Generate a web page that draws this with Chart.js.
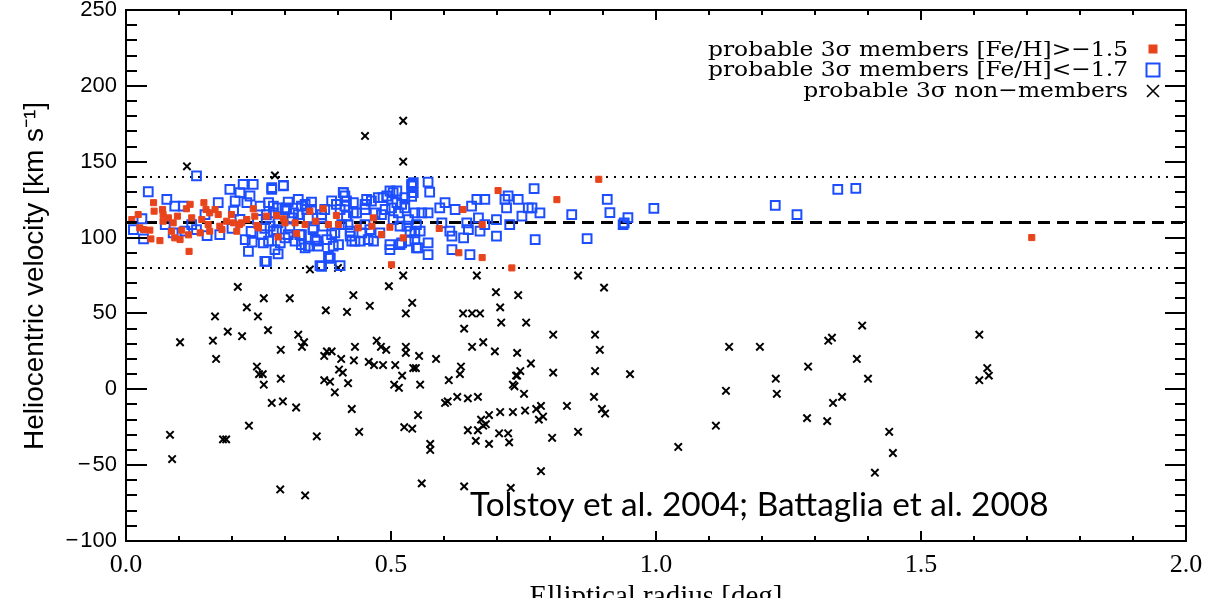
<!DOCTYPE html>
<html><head><meta charset="utf-8">
<script src="https://cdn.jsdelivr.net/npm/chart.js@4.4.0/dist/chart.umd.min.js"></script>
<style>html,body{margin:0;padding:0;background:#fff;}canvas{display:block;}</style>
</head><body>
<canvas id="c" width="1212" height="598"></canvas>
<script>
// ---- labels ----
const seriesLabels = [
  'probable 3\u03C3 members [Fe/H]>\u22121.5',
  'probable 3\u03C3 members [Fe/H]<\u22121.7',
  'probable 3\u03C3 non\u2212members'
];
const xTitle = 'Elliptical radius [deg]';
const yTitle = 'Heliocentric velocity [km s\u207B\u00B9]';
const creditText = 'Tolstoy et al. 2004; Battaglia et al. 2008';
const xTickValues = [0, 0.5, 1.0, 1.5, 2.0];
const yTickValues = [-100, -50, 0, 50, 100, 150, 200, 250];
const refLevels = [140, 110, 80];   // upper 3-sigma, systemic, lower 3-sigma

// ---- metal-rich members ([Fe/H] > -1.5) ----
const redRadius = [0.011,0.023,0.026,0.033,0.045,0.047,0.052,0.053,0.064,0.069,0.070,0.070,0.080,0.086,0.089,0.092,0.097,0.102,0.105,0.114,0.118,0.119,0.121,0.124,0.140,0.143,0.147,0.151,0.155,0.158,0.158,0.168,0.174,0.177,0.181,0.190,0.199,0.203,0.209,0.214,0.218,0.228,0.240,0.243,0.247,0.250,0.265,0.284,0.287,0.297,0.300,0.319,0.322,0.338,0.347,0.358,0.372,0.382,0.397,0.401,0.438,0.464,0.467,0.482,0.498,0.501,0.523,0.591,0.628,0.636,0.672,0.672,0.702,0.728,0.813,0.892,1.709];
const redVelocity = [111.9,115.2,106.4,105.3,104.9,99.1,123.0,117.4,98.0,118.5,115.2,110.8,113.0,104.2,109.7,99.8,114.1,98.7,104.9,119.0,101.8,90.9,121.9,113.0,103.1,111.9,123.0,118.5,108.6,116.3,104.2,118.5,115.2,107.5,105.3,110.8,115.2,109.7,104.2,108.6,109.7,111.9,119.0,114.1,107.9,106.4,114.1,114.6,100.4,112.4,109.7,109.7,102.6,108.6,117.4,110.8,119.0,108.6,114.6,108.6,106.4,107.5,113.0,102.0,106.8,82.1,99.8,106.0,90.0,118.5,108.6,86.8,131.0,80.0,125.0,138.4,100.0];

// ---- metal-poor members ([Fe/H] < -1.7) ----
const blueRadius = [0.014,0.030,0.033,0.042,0.077,0.074,0.089,0.092,0.108,0.111,0.133,0.124,0.133,0.149,0.153,0.174,0.177,0.196,0.203,0.206,0.215,0.221,0.228,0.234,0.240,0.225,0.231,0.253,0.256,0.259,0.262,0.265,0.275,0.278,0.284,0.291,0.297,0.303,0.306,0.313,0.325,0.328,0.331,0.338,0.344,0.350,0.353,0.360,0.366,0.369,0.385,0.388,0.391,0.397,0.404,0.410,0.413,0.416,0.423,0.429,0.432,0.442,0.451,0.454,0.460,0.467,0.476,0.482,0.492,0.498,0.501,0.504,0.511,0.517,0.520,0.526,0.530,0.533,0.539,0.542,0.545,0.548,
0.275,0.297,0.269,0.278,0.287,0.300,0.272,0.278,0.269,0.281,0.287,0.306,0.316,0.319,0.309,0.325,0.331,0.331,0.338,0.341,0.350,0.353,0.357,0.363,0.372,0.375,0.379,0.382,0.388,0.394,0.401,0.410,0.413,0.416,0.419,0.423,0.426,0.429,0.435,0.445,0.451,0.457,0.463,0.470,0.485,0.489,0.498,0.504,0.511,0.514,0.517,0.520,0.526,0.533,0.536,0.539,0.542,0.498,0.479,0.451,0.407,0.369,0.385,0.265,0.404,0.369,0.344,0.287,0.300,
0.570,0.573,0.539,0.545,0.558,0.570,0.548,0.555,0.545,0.551,0.570,0.570,0.592,0.602,0.596,0.611,0.615,0.615,0.621,0.637,0.643,0.646,0.649,0.652,0.662,0.665,0.668,0.677,0.677,0.699,0.699,0.715,0.718,0.721,0.724,0.740,0.747,0.759,0.766,0.770,0.772,0.781,
0.841,0.870,0.908,0.913,0.947,0.938,0.940,0.996,1.225,1.266,1.343,1.377,
0.200,0.215,0.236,0.248,0.262,0.238];
const blueVelocity = [105.3,112.4,99.1,130.2,125.2,108.6,103.1,120.8,120.8,104.2,140.6,108.6,105.3,115.2,101.3,123.0,102.0,131.8,117.4,124.1,129.6,135.1,123.0,127.4,135.1,98.7,90.9,120.8,102.0,96.5,84.3,115.2,131.8,120.8,105.3,96.5,134.0,119.6,102.0,113.0,115.2,102.0,95.4,121.9,94.3,118.5,105.3,97.6,81.5,115.2,86.5,102.0,94.3,121.9,118.5,129.6,127.4,124.1,104.2,116.3,97.6,97.6,121.9,125.2,105.3,97.6,126.3,115.2,127.4,92.1,119.6,111.9,130.7,95.4,121.9,126.3,107.5,97.6,134.0,136.2,103.1,93.2,
132.9,134.4,123.0,116.3,119.6,118.5,107.5,104.2,97.6,92.1,89.2,123.4,116.3,97.6,106.4,125.2,120.7,102.0,93.2,118.5,123.4,106.4,98.7,94.3,107.5,118.5,98.7,87.6,124.1,103.1,95.4,129.6,120.7,114.1,108.6,100.9,97.6,123.0,116.3,103.1,118.5,98.7,124.1,116.3,126.3,118.5,130.7,129.6,123.0,116.3,107.5,96.5,119.6,111.9,104.2,135.1,129.6,95.4,103.1,108.6,108.6,81.0,86.5,84.3,81.5,113.0,113.0,109.7,99.8,
136.6,130.0,127.2,116.3,116.3,116.3,108.6,104.2,98.7,93.2,96.5,88.8,119.6,123.0,109.7,104.2,100.9,92.1,118.5,99.8,109.7,105.3,88.8,120.7,125.2,113.0,104.2,125.2,108.6,111.9,100.9,125.2,119.6,127.4,108.6,125.2,114.1,119.6,119.6,132.2,98.7,116.3,
115.2,99.3,125.2,116.5,113.2,108.6,109.7,119.2,121.2,115.2,131.8,132.5,
106.0,112.0,104.0,112.0,106.0,97.0];

// ---- non-members ----
const crossRadius = [0.115,0.281,0.451,0.523,0.523,0.347,0.400,0.523,0.662,0.853,0.211,0.496,0.260,0.309,0.429,0.698,0.740,0.228,0.377,0.460,0.540,0.706,0.902,0.168,0.249,0.417,0.528,0.636,0.653,0.668,0.708,0.638,0.755,0.192,0.219,0.268,0.325,0.336,0.332,0.102,0.164,0.170,0.292,0.374,0.379,0.388,0.406,0.432,0.430,0.473,0.481,0.491,0.458,0.468,0.485,0.508,0.528,0.528,0.553,0.542,0.547,0.585,0.632,0.630,0.653,0.674,0.696,0.738,0.806,0.885,0.894,0.764,0.744,0.736,0.806,0.885,0.951,0.247,0.251,0.258,0.260,0.292,0.374,0.385,0.402,0.409,0.419,0.394,0.521,0.506,0.515,0.555,0.609,0.730,0.733,0.738,0.751,0.883,0.275,0.296,0.321,0.426,0.602,0.607,0.625,0.645,0.664,0.670,0.674,0.679,0.685,0.706,0.730,0.753,0.774,0.783,0.779,0.787,0.832,0.898,0.904,0.551,0.232,0.083,0.087,0.183,0.189,0.360,0.440,0.525,0.540,0.574,0.574,0.645,0.664,0.660,0.685,0.704,0.721,0.723,0.804,0.853,0.783,0.558,0.638,0.726,0.291,0.338,1.042,1.113,1.138,1.132,1.196,1.226,1.228,1.287,1.285,1.323,1.325,1.332,1.389,1.379,1.400,1.334,1.351,1.440,1.447,1.413,1.610,1.610,1.625,1.628];
const crossVelocity = [147,141,167,177,150,79,80,75,75,75,67.5,68,60,60,62,64,62,54,52,55,57,54,67,48,48,51,50,50,50,50,44,40,44,38,35,39,36,31,28,31,32,20,26,22,25,25,20,28,19,32,28,26,18,16,16,16,28,24,22,14,14,20,15,10,28,31,25,24,36,36,26,17,12,9,11,12,10,15,10,10,3,7,6,5,13,11,4,-2,9,3,1,3,6,3,2,9,-3,-5,-9,-8,-12,-13,-9,-8,-5,-6,-5,-20,-24,-23,-17,-15,-15,-14,-13,-11,-20,-18,-11,-13,-16,-17,-24,-30,-46,-33,-33,-31,-28,-25,-26,-36,-40,-27,-27,-34,-36,-29,-29,-35,-32,-28,-54,-62,-64,-65,-66,-70,-38,-24,28,-1,28,7,-3,15,-19,-21,32,34,42,20,7,-9,-5,-28,-42,-55,36,6,14,9];

// ---- styles ----
const RED = 'rgb(232,68,28)';
const BLUE = 'rgb(28,78,255)';
const zip = (xs, ys) => xs.map((x, i) => ({ x, y: ys[i] }));
const hline = v => [{ x: 0, y: v }, { x: 2, y: v }];

const framePlugin = {
  id: 'frame',
  afterDraw(chart) {
    const { ctx, chartArea: a, scales: { x, y } } = chart;
    ctx.save();
    ctx.strokeStyle = '#000';
    ctx.lineWidth = 2;
    ctx.beginPath();
    for (let v = y.min; v <= y.max + 1e-6; v += 10) {
      const p = Math.round(y.getPixelForValue(v));
      const len = (Math.round(v) % 50 === 0) ? 21 : 11;
      ctx.moveTo(a.left, p); ctx.lineTo(a.left + len, p);
      ctx.moveTo(a.right, p); ctx.lineTo(a.right - len, p);
    }
    for (let i = 0; i <= 20; i++) {
      const v = x.min + i * 0.1;
      const p = Math.round(x.getPixelForValue(v));
      const len = (i % 5 === 0) ? 10 : 5;
      ctx.moveTo(p, a.bottom); ctx.lineTo(p, a.bottom - len);
      ctx.moveTo(p, a.top); ctx.lineTo(p, a.top + len);
    }
    ctx.stroke();
    ctx.strokeRect(a.left, a.top, a.right - a.left, a.bottom - a.top);

    // axis titles
    ctx.fillStyle = '#000';
    ctx.font = '29px "Liberation Serif"';
    ctx.textAlign = 'center';
    ctx.textBaseline = 'alphabetic';
    ctx.fillText(xTitle, (a.left + a.right) / 2, 605);
    ctx.save();
    ctx.translate(35, 276);
    ctx.rotate(-Math.PI / 2);
    ctx.font = '28px "Liberation Sans"';
    ctx.textBaseline = 'middle';
    ctx.fillText(yTitle, 0, 0);
    ctx.restore();

    // legend
    ctx.font = '21px "DejaVu Serif"';
    ctx.textAlign = 'right';
    ctx.textBaseline = 'alphabetic';
    const sxScale = 420 / ctx.measureText(seriesLabels[0]).width;
    const rows = [56, 76, 97];
    seriesLabels.forEach((t, i) => {
      ctx.save();
      ctx.translate(1128, rows[i]);
      ctx.scale(sxScale, 1);
      ctx.fillText(t, 0, 0);
      ctx.restore();
    });
    const sx = 1153;
    ctx.fillStyle = RED;
    ctx.fillRect(sx - 4.5, 49 - 4.5, 9, 9);
    ctx.strokeStyle = BLUE; ctx.lineWidth = 2;
    ctx.strokeRect(sx - 6.5, 70 - 6.5, 13, 13);
    ctx.strokeStyle = '#000'; ctx.lineWidth = 1.6;
    ctx.beginPath();
    ctx.moveTo(sx - 6, 91 - 6); ctx.lineTo(sx + 6, 91 + 6);
    ctx.moveTo(sx + 6, 91 - 6); ctx.lineTo(sx - 6, 91 + 6);
    ctx.stroke();

    // credit
    ctx.fillStyle = '#000';
    ctx.textAlign = 'left';
    let fs = 36;
    ctx.font = fs + 'px Lato';
    const w = ctx.measureText(creditText).width;
    fs = fs * 578 / w;
    ctx.font = fs.toFixed(1) + 'px Lato';
    ctx.fillText(creditText, 470, 516);
    ctx.restore();
  }
};

new Chart(document.getElementById('c'), {
  type: 'scatter',
  data: {
    datasets: [
      { label: seriesLabels[0], data: zip(redRadius, redVelocity), pointStyle: 'rect', pointRadius: 4.3, backgroundColor: RED, borderColor: RED, borderWidth: 1 },
      { label: seriesLabels[1], data: zip(blueRadius, blueVelocity), pointStyle: 'rect', pointRadius: 6.2, backgroundColor: 'rgba(0,0,0,0)', borderColor: BLUE, borderWidth: 2 },
      { label: seriesLabels[2], data: zip(crossRadius, crossVelocity), pointStyle: 'crossRot', pointRadius: 5.2, borderColor: '#000', borderWidth: 2 },
      { type: 'line', label: 'upper', data: hline(refLevels[0]), borderColor: '#000', borderWidth: 2, borderDash: [2, 6], pointRadius: 0, fill: false },
      { type: 'line', label: 'mean', data: hline(refLevels[1]), borderColor: '#000', borderWidth: 3, borderDash: [12, 7], pointRadius: 0, fill: false },
      { type: 'line', label: 'lower', data: hline(refLevels[2]), borderColor: '#000', borderWidth: 2, borderDash: [2, 6], pointRadius: 0, fill: false }
    ]
  },
  options: {
    responsive: false,
    animation: false,
    devicePixelRatio: 1,
    events: [],
    layout: { autoPadding: false, padding: { left: 0, right: 26, top: 10, bottom: 0 } },
    plugins: { legend: { display: false }, tooltip: { enabled: false } },
    scales: {
      x: {
        type: 'linear', min: 0, max: 2,
        afterBuildTicks: s => { s.ticks = xTickValues.map(v => ({ value: v })); },
        afterFit: s => { s.height = 57; s.paddingLeft = 0; s.paddingRight = 0; },
        grid: { display: false, drawTicks: false },
        border: { display: false },
        ticks: { callback: v => v.toFixed(1), color: '#000', font: { family: 'Liberation Serif', size: 26 }, padding: 9, maxRotation: 0, autoSkip: false }
      },
      y: {
        type: 'linear', min: -100, max: 250,
        afterBuildTicks: s => { s.ticks = yTickValues.map(v => ({ value: v })); },
        afterFit: s => { s.width = 126; s.paddingTop = 0; s.paddingBottom = 0; },
        grid: { display: false, drawTicks: false },
        border: { display: false },
        ticks: { callback: v => (v < 0 ? '\u2212\u200A' + Math.abs(v) : String(v)), color: '#000', font: { family: 'Liberation Sans', size: 22 }, padding: 9, autoSkip: false }
      }
    }
  },
  plugins: [framePlugin]
});
</script>
</body></html>
